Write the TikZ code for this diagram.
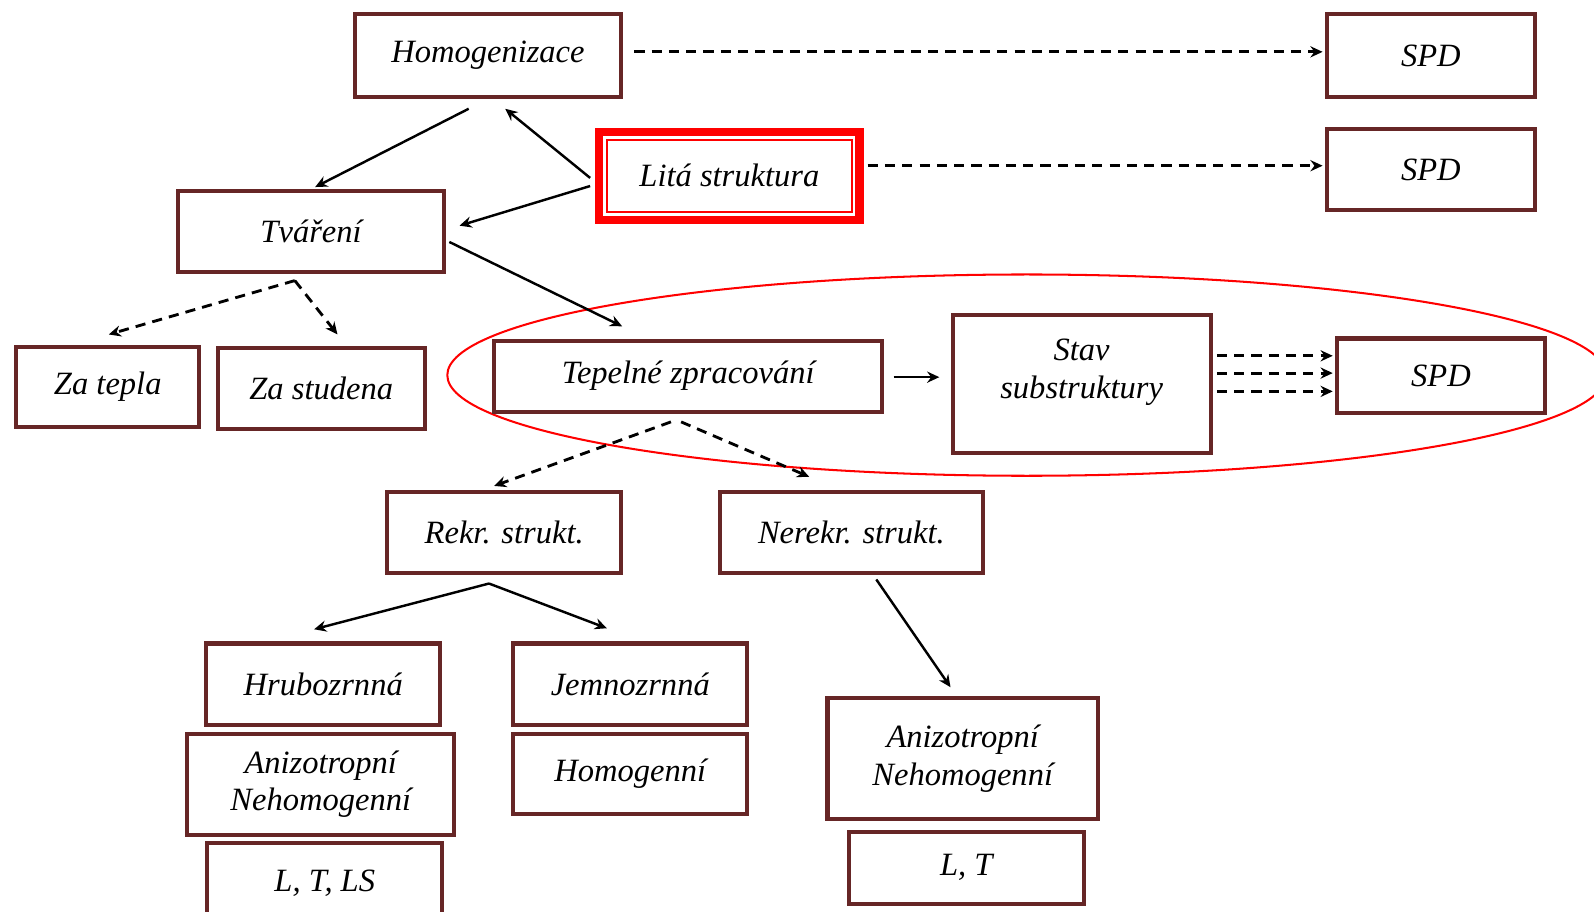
\documentclass[tikz,border=0pt]{standalone}
\usepackage{fontspec}
\setmainfont{Liberation Serif}
\usetikzlibrary{arrows.meta}
\definecolor{boxc}{RGB}{102,38,38}
\begin{document}
\begin{tikzpicture}[x=1pt,y=-1pt,
  box/.style={draw=boxc, line width=4pt, fill=white, inner sep=0pt,
    font=\fontsize{32}{37}\selectfont\itshape, align=center},
  arr/.style={line width=2.4pt, -{Stealth[length=12pt,width=11pt,inset=4pt]}},
  darr/.style={arr, line width=2.8pt, dash pattern=on 10pt off 7pt},
  txt/.style={font=\fontsize{32}{37}\selectfont\itshape, align=center, inner sep=0pt}]
\clip (0,0) rectangle (1568,897);
\fill[white] (0,0) rectangle (1568,897);

\draw[red, line width=2pt] (1010,369) ellipse [x radius=570, y radius=99];

\node[box, minimum width=262, minimum height=81] (homog) at (480,54.5) {Homogenizace};
\node[box, minimum width=205, minimum height=81] (spd1) at (1407.5,54.5) {SPD};
\node[box, minimum width=205, minimum height=80] (spd2) at (1407.5,167) {SPD};
\node[box, draw=red, line width=8pt, outer sep=0pt, minimum width=256, minimum height=86] (lita) at (717.5,173) {Litá struktura};
\draw[red, line width=2pt] ([shift={(7.5,7.5)}]lita.north west) rectangle ([shift={(-7.5,-7.5)}]lita.south east);
\node[box, minimum width=262, minimum height=80] (tvareni) at (306,228) {Tváření};
\node[box, minimum width=180, minimum height=79] (zatepla) at (106,380.5) {Za tepla};
\node[box, minimum width=204, minimum height=80] (zastudena) at (316,382) {Za studena};
\node[box, fill=none, minimum width=382, minimum height=70] (tepelne) at (677,370) {Tepelné zpracování};
\node[box, minimum width=254, minimum height=136] (stav) at (1064,378) {};
\node[txt] (stavtxt) at (1064,366) {Stav\\substruktury};
\node[box, minimum width=205, minimum height=73] (spd3) at (1417.5,369.5) {SPD};
\node[box, minimum width=230, minimum height=80] (rekr) at (496,524) {Rekr. strukt.};
\node[box, minimum width=259, minimum height=80] (nerekr) at (837.5,524) {Nerekr. strukt.};
\node[box, minimum width=230, minimum height=80] (hrubo) at (318,673) {Hrubozrnná};
\node[box, minimum width=230, minimum height=80] (jemno) at (620,673) {Jemnozrnná};
\node[box, minimum width=263, minimum height=99] (aniza) at (315.5,771.5) {Anizotropní\\Nehomogenní};
\node[box, minimum width=230, minimum height=79] (homogenni) at (620,761.5) {Homogenní};
\node[box, minimum width=231, minimum height=80] (lts) at (319.5,869) {L, T, LS};
\node[box, minimum width=266, minimum height=119] (anizb) at (947,746.5) {Anizotropní\\Nehomogenní};
\node[box, minimum width=231, minimum height=71] (lt) at (950.5,853.5) {L, T};

% connectors
\draw[darr] ([shift={(11,-3.5)}]homog.east) -- ([shift={(-2,-3.5)}]spd1.west);
\draw[darr] ([shift={(8,-10)}]lita.east) -- ([shift={(-2,-4)}]spd2.west);
\draw[arr] ([shift={(-19,10)}]homog.south) -- ([shift={(4,-2)}]tvareni.north);
\draw[arr] ([shift={(-9,2)}]lita.west) -- ([shift={(17,10)}]homog.south);
\draw[arr] ([shift={(-9,10)}]lita.west) -- ([shift={(13,-6)}]tvareni.east);
\draw[arr] ([shift={(3,10)}]tvareni.east) -- ([shift={(-65,-12)}]tepelne.north);
\draw[darr] ([shift={(-16,6)}]tvareni.south) -- ([shift={(1,-10)}]zatepla.north);
\draw[darr] ([shift={(-16,6)}]tvareni.south) -- ([shift={(16,-11)}]zastudena.north);
\draw[arr] ([shift={(9,1)}]tepelne.east) -- ([shift={(-11,-7)}]stav.west);
\draw[darr] ([shift={(4,-28)}]stav.east) -- ([shift={(-2,-19.5)}]spd3.west);
\draw[darr] ([shift={(4,-11)}]stav.east) -- ([shift={(-2,-2.5)}]spd3.west);
\draw[darr] ([shift={(4,7)}]stav.east) -- ([shift={(-2,15.5)}]spd3.west);
\draw[darr] ([shift={(-17,8)}]tepelne.south) -- ([shift={(-10,-4)}]rekr.north);
\draw[darr] ([shift={(-7,8)}]tepelne.south) -- ([shift={(-41.5,-13)}]nerekr.north);
\draw[arr] ([shift={(-15,8)}]rekr.south) -- ([shift={(-9,-12)}]hrubo.north);
\draw[arr] ([shift={(-15,8)}]rekr.south) -- ([shift={(-23,-13)}]jemno.north);
\draw[arr] ([shift={(24.5,4)}]nerekr.south) -- ([shift={(-12,-9)}]anizb.north);
\end{tikzpicture}
\end{document}
